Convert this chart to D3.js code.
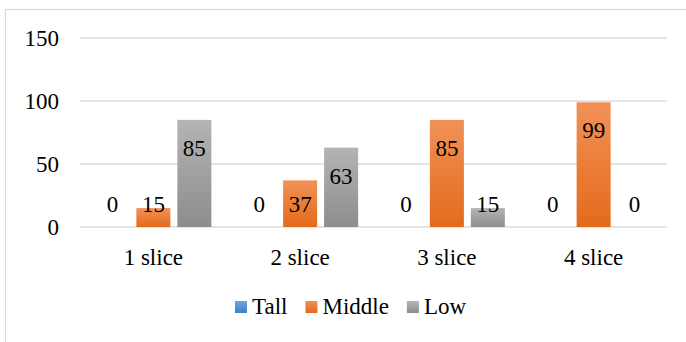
<!DOCTYPE html>
<meta charset="utf-8">
<script src="https://d3js.org/d3.v7.min.js"></script>
<div id="my_dataviz"></div>
<script>
// data
var categories = ["1 slice", "2 slice", "3 slice", "4 slice"];
var seriesNames = ["Tall", "Middle", "Low"];
var tall   = [0, 0, 0, 0];
var middle = [15, 37, 85, 99];
var low    = [85, 63, 15, 0];
var yTicks = [0, 50, 100, 150];

var values = [tall, middle, low];
var colors = {
  Tall:   ["#6ea6dc", "#3f80c4"],
  Middle: ["#f19158", "#e46a1a"],
  Low:    ["#b4b4b4", "#8d8d8d"]
};

d3.select("body").style("margin", "0px");

var W = 686, H = 342;
var margin = {top: 38, right: 19, bottom: 115, left: 80};
var width = W - margin.left - margin.right,
    height = H - margin.top - margin.bottom;

var svgRoot = d3.select("#my_dataviz").append("svg")
  .attr("width", W).attr("height", H);

// helper for serif text
function label(sel) {
  return sel.attr("font-family", "Liberation Serif").attr("font-size", 23);
}

// chart border (only left & top visible in the picture)
svgRoot.append("rect")
  .attr("x", 5.5).attr("y", 9.5)
  .attr("width", 720).attr("height", 400)
  .attr("fill", "none").attr("stroke", "#d9d9d9").attr("stroke-width", 1.2);

// gradients
var defs = svgRoot.append("defs");
seriesNames.forEach(function(s) {
  var g = defs.append("linearGradient").attr("id", "grad-" + s)
    .attr("x1", 0).attr("y1", 0).attr("x2", 0).attr("y2", 1);
  g.append("stop").attr("offset", "0%").attr("stop-color", colors[s][0]);
  g.append("stop").attr("offset", "100%").attr("stop-color", colors[s][1]);
});

var svg = svgRoot.append("g")
  .attr("transform", "translate(" + margin.left + "," + margin.top + ")");

var x0 = d3.scaleBand().domain(categories).range([0, width]).padding(0);
var x1 = d3.scaleBand().domain(seriesNames).range([0, x0.bandwidth()])
  .paddingInner(0.17).paddingOuter(0.375);
var y = d3.scaleLinear().domain([0, 150]).range([height, 0]);

// gridlines
svg.selectAll(".grid").data(yTicks).enter().append("line")
  .attr("x1", 0).attr("x2", width)
  .attr("y1", function(d) { return y(d); })
  .attr("y2", function(d) { return y(d); })
  .attr("stroke", "#d9dce1").attr("stroke-width", 1.6);

// y labels
label(svg.selectAll(".ylab").data(yTicks).enter().append("text"))
  .attr("x", -21)
  .attr("y", function(d) { return y(d) + 8; })
  .attr("text-anchor", "end")
  .text(function(d) { return d; });

// bars
var groups = svg.selectAll(".cat").data(categories).enter().append("g")
  .attr("transform", function(d) { return "translate(" + x0(d) + ",0)"; });

groups.selectAll("rect")
  .data(function(d, i) { return seriesNames.map(function(s, j) { return {s: s, v: values[j][i]}; }); })
  .enter().append("rect")
    .attr("x", function(d) { return x1(d.s); })
    .attr("y", function(d) { return y(d.v); })
    .attr("width", x1.bandwidth())
    .attr("height", function(d) { return height - y(d.v); })
    .attr("fill", function(d) { return "url(#grad-" + d.s + ")"; });

// data labels
label(groups.selectAll(".lab")
  .data(function(d, i) { return seriesNames.map(function(s, j) { return {s: s, v: values[j][i]}; }); })
  .enter().append("text"))
    .attr("x", function(d) { return x1(d.s) + x1.bandwidth() / 2; })
    .attr("y", function(d) { return Math.min(y(d.v) + 36, y(0) - 15); })
    .attr("text-anchor", "middle")
    .text(function(d) { return d.v; });

// x labels
label(svg.selectAll(".xlab").data(categories).enter().append("text"))
  .attr("x", function(d) { return x0(d) + x0.bandwidth() / 2; })
  .attr("y", height + 38)
  .attr("text-anchor", "middle")
  .text(function(d) { return d; });

// legend
var legend = svgRoot.append("g").attr("transform", "translate(235,301)");
var lx = 0;
seriesNames.forEach(function(s) {
  legend.append("rect").attr("x", lx).attr("y", 0)
    .attr("width", 12).attr("height", 12)
    .attr("fill", "url(#grad-" + s + ")");
  var t = label(legend.append("text")).attr("x", lx + 17).attr("y", 13).text(s);
  lx += 17 + t.node().getComputedTextLength() + 18;
});
</script>
